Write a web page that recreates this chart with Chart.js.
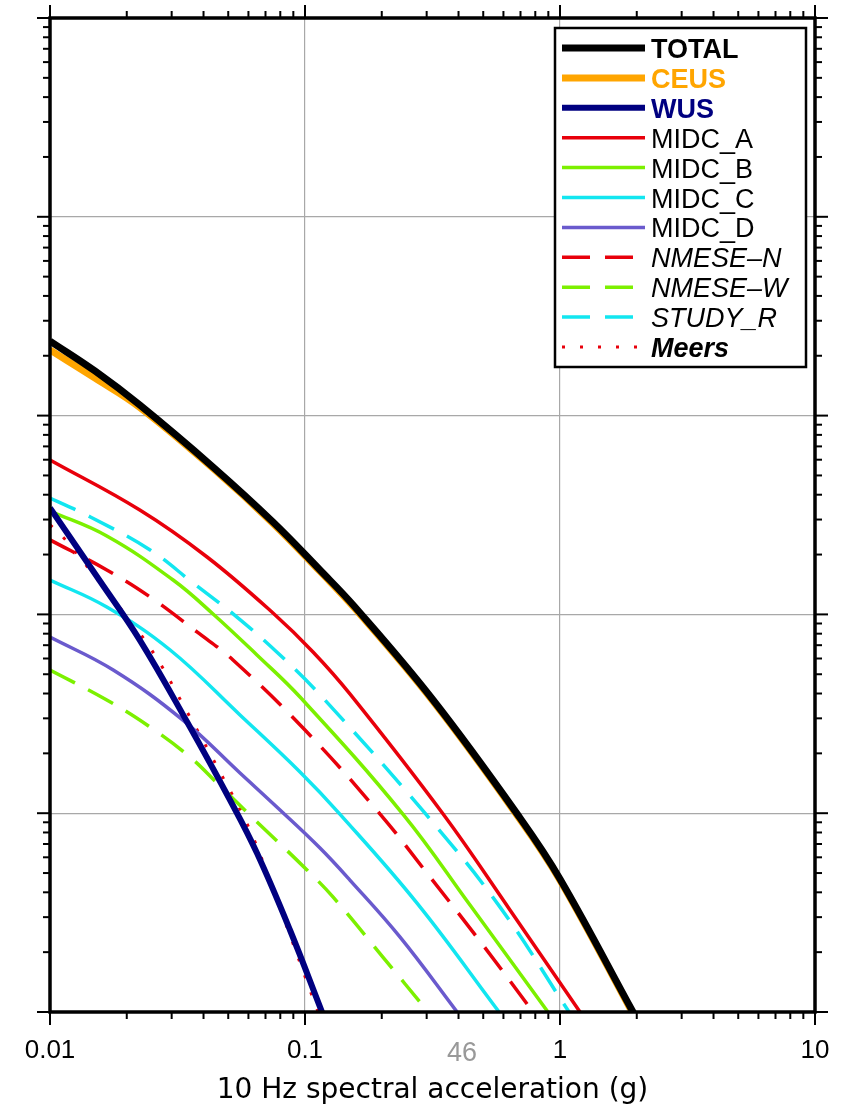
<!DOCTYPE html>
<html>
<head>
<meta charset="utf-8">
<script src="https://cdn.jsdelivr.net/npm/chart.js@4.4.1/dist/chart.umd.min.js"></script>
<style>
  body { margin: 0; background: #fff; }
  canvas { display: block; }
</style>
</head>
<body>
<canvas id="hazard" width="842" height="1108"></canvas>
<script>
// values (x = spectral acceleration in g, y = annual rate)
const totalX = [0.01, 0.015, 0.0225, 0.0436, 0.0749, 0.1145, 0.157, 0.318, 0.697, 1.0, 1.933, 2.06];
const totalY = [2.37e-4, 1.677e-4, 1.13e-4, 5.51e-5, 2.916e-5, 1.673e-5, 1.089e-5, 3.71e-6, 9.46e-7, 4.67e-7, 1e-7, 8.6e-8];

const ceusX = [0.01, 0.015, 0.0225, 0.0436, 0.0749, 0.1145, 0.157, 0.318, 0.697, 1.0, 1.933];
const ceusY = [2.14e-4, 1.545e-4, 1.10e-4, 5.42e-5, 2.87e-5, 1.645e-5, 1.07e-5, 3.65e-6, 9.3e-7, 4.6e-7, 9.8e-8];

const wusX = [0.01, 0.0157, 0.0225, 0.0345, 0.0508, 0.0648, 0.0873, 0.1166];
const wusY = [3.43e-5, 1.472e-5, 7.43e-6, 2.876e-6, 1.165e-6, 6.3e-7, 2.585e-7, 1e-7];

const midcAX = [0.01, 0.0225, 0.0413, 0.0749, 0.1075, 0.150, 0.348, 0.6365, 1.198];
const midcAY = [5.98e-5, 3.35e-5, 1.944e-5, 1.016e-5, 6.47e-6, 3.98e-6, 9.9e-7, 3.26e-7, 1e-7];

const midcBX = [0.01, 0.0167, 0.0304, 0.0436, 0.0648, 0.0956, 0.242, 0.4437, 0.897];
const midcBY = [3.31e-5, 2.48e-5, 1.489e-5, 1.005e-5, 6.25e-6, 3.84e-6, 9.9e-7, 3.45e-7, 1e-7];

const midcCX = [0.01, 0.0167, 0.0296, 0.0556, 0.0956, 0.137, 0.275, 0.577];
const midcCY = [1.489e-5, 1.089e-5, 6.62e-6, 3.12e-6, 1.612e-6, 9.9e-7, 3.53e-7, 1e-7];

const midcDX = [0.01, 0.0177, 0.0332, 0.0556, 0.0798, 0.1145, 0.150, 0.236, 0.395];
const midcDY = [7.69e-6, 5.25e-6, 2.94e-6, 1.593e-6, 1.038e-6, 6.68e-7, 4.61e-7, 2.38e-7, 1e-7];

const nmeseNX = [0.01, 0.0167, 0.0247, 0.0377, 0.0522, 0.1, 0.197, 0.309, 0.499, 0.784];
const nmeseNY = [2.37e-5, 1.673e-5, 1.223e-5, 8.16e-6, 5.9e-6, 2.62e-6, 9.9e-7, 4.78e-7, 2.17e-7, 1e-7];

const nmeseWX = [0.01, 0.0167, 0.0247, 0.0354, 0.0452, 0.0625, 0.1018, 0.1287, 0.202, 0.304];
const nmeseWY = [5.25e-6, 3.71e-6, 2.71e-6, 1.917e-6, 1.419e-6, 9.46e-7, 5.18e-7, 3.79e-7, 1.89e-7, 1e-7];

const studyRX = [0.01, 0.0144, 0.0247, 0.0364, 0.0541, 0.0798, 0.1176, 0.2955, 0.582, 1.085];
const studyRY = [3.85e-5, 3.09e-5, 2.108e-5, 1.439e-5, 9.7e-6, 6.25e-6, 3.8e-6, 1.0e-6, 3.37e-7, 1e-7];

const meersX = [0.01, 0.01125, 0.0157, 0.0247, 0.0345, 0.0464, 0.0608, 0.0763, 0.1125];
const meersY = [2.82e-5, 2.45e-5, 1.439e-5, 6.78e-6, 3.23e-6, 1.612e-6, 8.23e-7, 3.88e-7, 1e-7];

const seriesNames = ["TOTAL", "CEUS", "WUS", "MIDC_A", "MIDC_B", "MIDC_C", "MIDC_D", "NMESE\u2013N", "NMESE\u2013W", "STUDY_R", "Meers"];
const xDecades = [0.01, 0.1, 1, 10];
const yDecades = [1e-7, 1e-6, 1e-5, 1e-4, 1e-3, 1e-2];
const xTickLabels = ["0.01", "0.1", "1", "10"];

function pts(xs, ys) {
    return xs.map((x, i) => ({ x: x, y: ys[i] }));
}

function logTicks(decades) {
    const out = [];
    decades.forEach((d, i) => {
        out.push({ value: d, major: true });
        if (i < decades.length - 1) {
            for (let m = 2; m <= 9; m++) out.push({ value: d * m, major: false });
        }
    });
    return out;
}

const styles = [
    { color: "#000000", width: 7, dash: [], font: "bold 27px 'Liberation Sans'", text: "#000000" },
    { color: "#ffa500", width: 7, dash: [], font: "bold 27px 'Liberation Sans'", text: "#ffa500" },
    { color: "#000080", width: 6, dash: [], font: "bold 27px 'Liberation Sans'", text: "#000080" },
    { color: "#e8000b", width: 3.5, dash: [], font: "27px 'Liberation Sans'", text: "#000000" },
    { color: "#7cf000", width: 3.5, dash: [], font: "27px 'Liberation Sans'", text: "#000000" },
    { color: "#12e6f0", width: 3.5, dash: [], font: "27px 'Liberation Sans'", text: "#000000" },
    { color: "#6a5acd", width: 3.5, dash: [], font: "27px 'Liberation Sans'", text: "#000000" },
    { color: "#e8000b", width: 3.5, dash: [28, 15], font: "italic 27px 'Liberation Sans'", text: "#000000" },
    { color: "#7cf000", width: 3.5, dash: [28, 15], font: "italic 27px 'Liberation Sans'", text: "#000000" },
    { color: "#12e6f0", width: 3.5, dash: [28, 15], font: "italic 27px 'Liberation Sans'", text: "#000000" },
    { color: "#e8000b", width: 3, dash: [3, 15], font: "italic bold 27px 'Liberation Sans'", text: "#000000" }
];

const allData = [
    pts(totalX, totalY), pts(ceusX, ceusY), pts(wusX, wusY),
    pts(midcAX, midcAY), pts(midcBX, midcBY), pts(midcCX, midcCY), pts(midcDX, midcDY),
    pts(nmeseNX, nmeseNY), pts(nmeseWX, nmeseWY), pts(studyRX, studyRY), pts(meersX, meersY)
];

const datasets = seriesNames.map((name, i) => ({
    label: name,
    data: allData[i],
    borderColor: styles[i].color,
    borderWidth: styles[i].width,
    borderDash: styles[i].dash,
    borderCapStyle: "butt",
    pointRadius: 0,
    fill: false,
    tension: 0.4
}));

const gridColor = ctx => (ctx.tick && ctx.tick.major ? "#a8a8a8" : "rgba(0,0,0,0)");

// frame, outer tick marks, legend box and the loose texts
const framePlugin = {
    id: "frame",
    afterDraw(chart) {
        const { ctx, chartArea: a, scales: { x, y } } = chart;
        ctx.save();
        const seg = (x1, y1, x2, y2) => { ctx.beginPath(); ctx.moveTo(x1, y1); ctx.lineTo(x2, y2); ctx.stroke(); };

        ctx.strokeStyle = "#000";
        ctx.lineWidth = 2;
        x.ticks.forEach(t => {
            const px = x.getPixelForValue(t.value);
            const L = t.major ? 13 : 7;
            seg(px, a.bottom, px, a.bottom + L);
            seg(px, a.top, px, a.top - L);
        });
        y.ticks.forEach(t => {
            const py = y.getPixelForValue(t.value);
            const L = t.major ? 13 : 7;
            seg(a.left, py, a.left - L, py);
            seg(a.right, py, a.right + L, py);
        });
        ctx.lineWidth = 3.5;
        ctx.strokeRect(a.left, a.top, a.right - a.left, a.bottom - a.top);

        // legend
        ctx.fillStyle = "#fff";
        ctx.fillRect(555, 28, 251, 339);
        ctx.lineWidth = 2.5;
        ctx.strokeRect(555, 28, 251, 339);
        chart.data.datasets.forEach((ds, i) => {
            const rowY = 48 + i * 29.9;
            ctx.strokeStyle = ds.borderColor;
            ctx.lineWidth = ds.borderWidth;
            ctx.lineCap = "butt";
            ctx.setLineDash(ds.borderDash);
            seg(562, rowY, 645, rowY);
            ctx.setLineDash([]);
            ctx.font = styles[i].font;
            ctx.fillStyle = styles[i].text;
            ctx.textAlign = "left";
            ctx.textBaseline = "alphabetic";
            ctx.fillText(ds.label, 651, rowY + 10);
        });

        ctx.fillStyle = "#000";
        ctx.textAlign = "center";
        ctx.font = "28px 'DejaVu Sans'";
        ctx.fillText("10 Hz spectral acceleration (g)", (a.left + a.right) / 2, 1098);
        ctx.fillStyle = "#999";
        ctx.font = "27px 'Liberation Sans'";
        ctx.fillText("46", 462, 1061);
        ctx.restore();
    }
};

new Chart(document.getElementById("hazard"), {
    type: "line",
    data: { datasets: datasets },
    plugins: [framePlugin],
    options: {
        responsive: false,
        devicePixelRatio: 1,
        animation: false,
        layout: { padding: { top: 18, right: 27, left: 0, bottom: 0 } },
        plugins: { legend: { display: false }, tooltip: { enabled: false } },
        scales: {
            x: {
                type: "logarithmic",
                min: 0.01,
                max: 10,
                afterBuildTicks: s => { s.ticks = logTicks(xDecades); },
                afterFit: s => { s.height = 96; s.paddingLeft = 0; s.paddingRight = 0; },
                grid: { color: gridColor, lineWidth: 1.2, drawTicks: false },
                border: { display: false },
                ticks: {
                    autoSkip: false,
                    maxRotation: 0,
                    padding: 23,
                    color: "#000",
                    font: { family: "'Liberation Sans'", size: 26 },
                    callback: v => {
                        const k = xDecades.indexOf(v);
                        return k >= 0 ? xTickLabels[k] : "";
                    }
                }
            },
            y: {
                type: "logarithmic",
                min: 1e-7,
                max: 1e-2,
                afterBuildTicks: s => { s.ticks = logTicks(yDecades); },
                afterFit: s => { s.width = 50; },
                grid: { color: gridColor, lineWidth: 1.2, drawTicks: false },
                border: { display: false },
                ticks: { display: false }
            }
        }
    }
});
</script>
</body>
</html>
